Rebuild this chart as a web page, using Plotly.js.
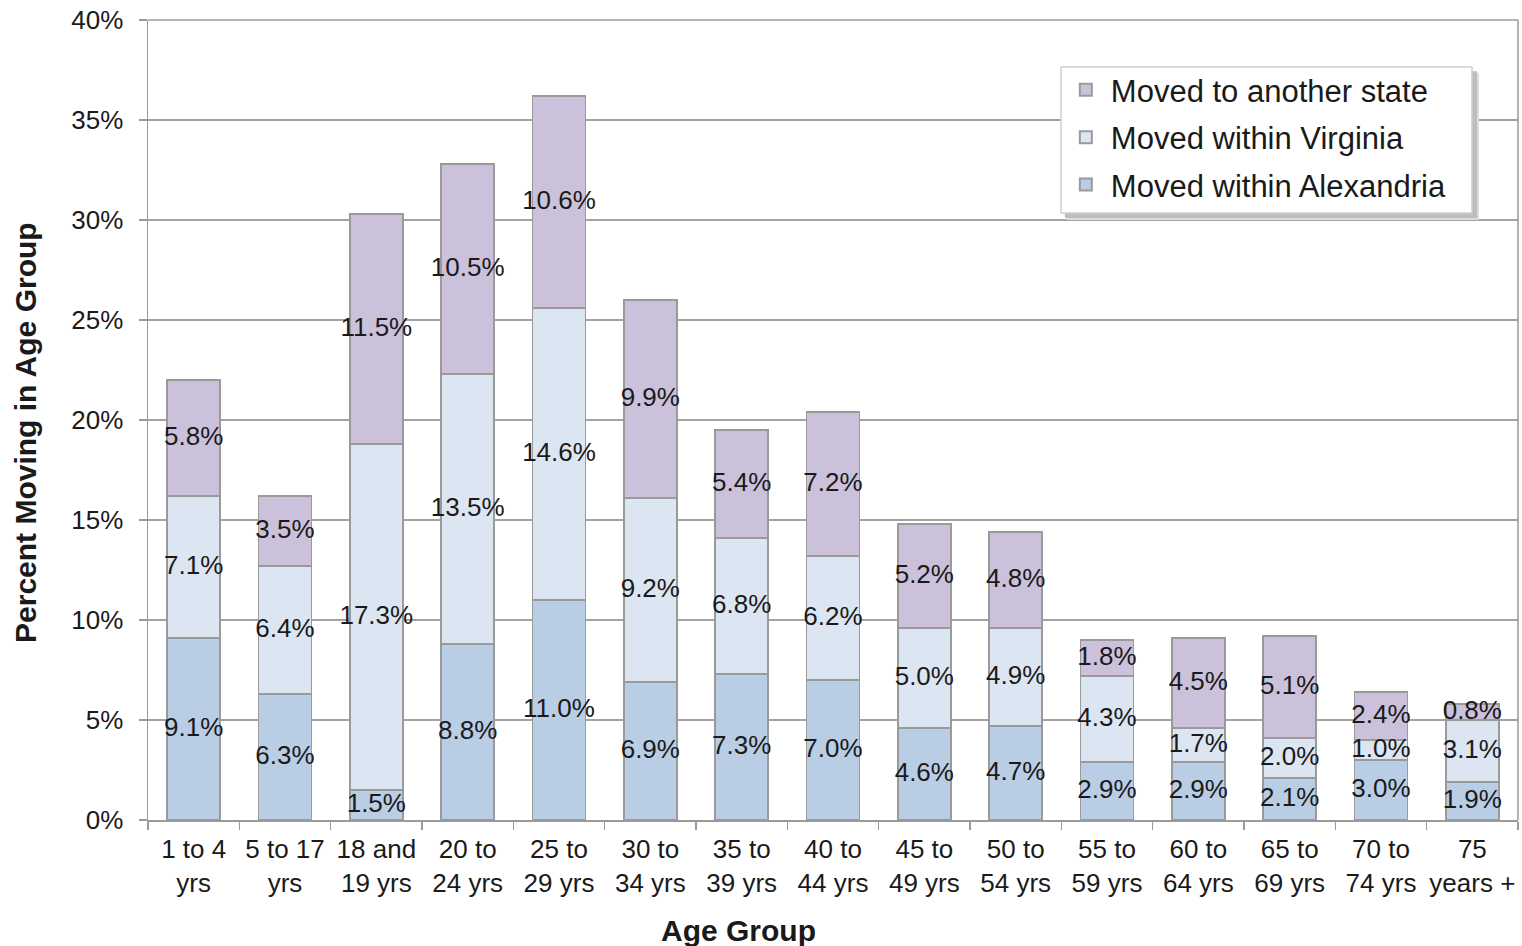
<!DOCTYPE html>
<html>
<head>
<meta charset="utf-8">
<script src="https://cdn.plot.ly/plotly-3.0.1.min.js"></script>
<style>html,body{margin:0;padding:0;background:#fff;}#chart{width:1522px;height:946px;}</style>
</head>
<body>
<div id="chart"></div>
<script>
const categories = ["1 to 4<br>yrs","5 to 17<br>yrs","18 and<br>19 yrs","20 to<br>24 yrs","25 to<br>29 yrs","30 to<br>34 yrs","35 to<br>39 yrs","40 to<br>44 yrs","45 to<br>49 yrs","50 to<br>54 yrs","55 to<br>59 yrs","60 to<br>64 yrs","65 to<br>69 yrs","70 to<br>74 yrs","75<br>years +"];
const withinAlexandria = [9.1, 6.3, 1.5, 8.8, 11.0, 6.9, 7.3, 7.0, 4.6, 4.7, 2.9, 2.9, 2.1, 3.0, 1.9];
const withinVirginia   = [7.1, 6.4, 17.3, 13.5, 14.6, 9.2, 6.8, 6.2, 5.0, 4.9, 4.3, 1.7, 2.0, 1.0, 3.1];
const anotherState     = [5.8, 3.5, 11.5, 10.5, 10.6, 9.9, 5.4, 7.2, 5.2, 4.8, 1.8, 4.5, 5.1, 2.4, 0.8];
const seriesNames = ["Moved within Alexandria","Moved within Virginia","Moved to another state"];
const seriesColors = ["#b9cde5","#dce6f2","#ccc1da"];
const yTickVals = [0,5,10,15,20,25,30,35,40];

const series = [withinAlexandria, withinVirginia, anotherState];
const traces = [];
const base = categories.map(() => 0);
series.forEach((vals, i) => {
  traces.push({
    type: 'bar', x: categories, y: vals, name: seriesNames[i], legendgroup: 'g' + i,
    legendrank: 100 - i,
    marker: {color: seriesColors[i], line: {color: '#9a9a9a', width: 1.5}},
    hoverinfo: 'x+y+name'
  });
});
series.forEach((vals, i) => {
  const mids = vals.map((v, k) => base[k] + v / 2);
  vals.forEach((v, k) => base[k] += v);
  traces.push({
    type: 'scatter', mode: 'text', x: categories, y: mids,
    text: vals.map(v => v.toFixed(1) + '%'),
    textposition: 'middle center',
    textfont: {family: 'Liberation Sans, Arial, sans-serif', size: 26, color: '#1a1a1a'},
    showlegend: false, hoverinfo: 'skip', cliponaxis: false
  });
});

const layout = {
  width: 1522, height: 946,
  margin: {l: 148, r: 4, t: 20, b: 126},
  paper_bgcolor: '#ffffff', plot_bgcolor: '#ffffff',
  barmode: 'stack', bargap: 0.42,
  font: {family: 'Liberation Sans, Arial, sans-serif', color: '#1a1a1a'},
  xaxis: {
    type: 'category', range: [-0.5, 14.5], showgrid: false, showline: true, linecolor: '#9a9a9a', linewidth: 1.5,
    mirror: false, ticks: 'outside', ticklen: 8, tickcolor: '#9a9a9a', tickwidth: 1.5,
    tickson: 'boundaries', tickangle: 0, ticklabelstandoff: 5,
    tickfont: {size: 26, color: '#1a1a1a'}
  },
  yaxis: {
    range: [0, 40], tickvals: yTickVals, ticktext: yTickVals.map(v => v + '%'),
    showgrid: true, gridcolor: '#a3a3a3', gridwidth: 1.5,
    showline: true, linecolor: '#9a9a9a', linewidth: 1.5,
    ticks: 'outside', ticklen: 8, tickcolor: '#9a9a9a', tickwidth: 1.5,
    ticklabelstandoff: 10,
    tickfont: {size: 26, color: '#1a1a1a'}, zeroline: false
  },
  annotations: [
    {text: '<b>Age Group</b>', xref: 'paper', yref: 'paper', x: 0.4307, y: -0.1375, xanchor: 'center', yanchor: 'middle',
     showarrow: false, font: {size: 30, color: '#1a1a1a'}},
    {text: '<b>Percent Moving in Age Group</b>', xref: 'paper', yref: 'paper', x: -0.0898, y: 0.485, xanchor: 'center', yanchor: 'middle',
     textangle: -90, showarrow: false, font: {size: 30, color: '#1a1a1a'}}
  ],
  legend: {
    x: 0.6663, y: 0.946, xanchor: 'left', yanchor: 'top',
    bgcolor: 'rgba(0,0,0,0)', borderwidth: 0,
    font: {size: 31, color: '#1a1a1a'}, traceorder: 'grouped',
    itemsizing: 'constant', itemwidth: 40, tracegroupgap: 4
  },
  shapes: [
    {type: 'line', xref: 'paper', yref: 'paper', x0: 1, x1: 1, y0: 0, y1: 1, line: {color: '#9a9a9a', width: 1.5}},
    {type: 'line', xref: 'paper', yref: 'paper', x0: 0, x1: 1, y0: 1, y1: 1, line: {color: '#9a9a9a', width: 1.5}},
    {type: 'rect', xref: 'paper', yref: 'paper', layer: 'above', x0: 0.6708, x1: 0.9715, y0: 0.7500, y1: 0.9340,
     fillcolor: '#dcdcdc', line: {width: 0}},
    {type: 'rect', xref: 'paper', yref: 'paper', layer: 'above', x0: 0.6693, x1: 0.9701, y0: 0.7525, y1: 0.9360,
     fillcolor: '#bdbdbd', line: {width: 0}},
    {type: 'rect', xref: 'paper', yref: 'paper', layer: 'above', x0: 0.66642, x1: 0.96642, y0: 0.75875, y1: 0.94125,
     fillcolor: '#ffffff', line: {color: '#cfcfcf', width: 1.5}}
  ],
  showlegend: true
};

Plotly.newPlot('chart', traces, layout, {displayModeBar: false, staticPlot: true});
</script>
</body>
</html>
